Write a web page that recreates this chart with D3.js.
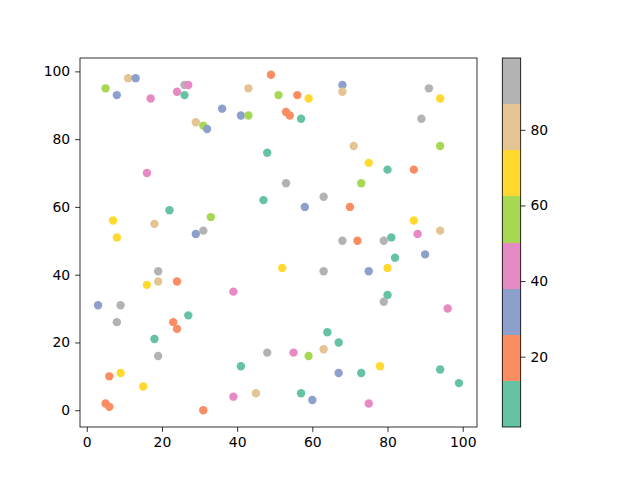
<!DOCTYPE html>
<html><head><meta charset="utf-8">
<script src="https://cdn.jsdelivr.net/npm/d3@7"></script>
<style>body{margin:0;background:#fff}svg{display:block}text{font-family:"DejaVu Sans",sans-serif;font-size:13.9px;fill:#000}</style>
</head><body>
<script>
const xs = [5,8,11,13,17,16,24,26,27,26,29,31,32,36,41,43,43,49,51,48,56,59,53,54,57,68,68,91,94,89,94,71,75,80,87,53,73,47,7,8,18,22,33,29,31,19,19,16,24,39,52,3,9,63,58,70,87,94,88,81,79,72,68,90,82,63,75,80,80,79,96,8,23,24,27,18,19,48,41,6,9,15,5,6,31,39,45,64,67,55,59,63,67,73,78,94,99,57,60,75];
const ys = [95,93,98,98,92,70,94,96,96,93,85,84,83,89,87,87,95,99,93,76,93,92,88,87,86,96,94,95,92,86,78,78,73,71,71,67,67,62,56,51,55,59,57,52,53,41,38,37,38,35,42,31,31,63,60,60,56,53,52,51,50,50,50,46,45,41,41,42,34,32,30,26,26,24,28,21,16,17,13,10,11,7,2,1,0,4,5,23,20,17,16,18,11,11,13,12,8,5,3,2];
const cs = [56,32,81,32,44,44,44,93,44,7,81,56,32,32,32,56,81,20,56,7,20,68,20,20,7,32,81,93,68,93,56,81,68,7,20,93,56,7,68,68,81,7,56,32,93,93,81,68,20,44,68,32,93,93,32,20,68,81,44,7,93,20,93,32,7,93,32,68,7,93,44,93,20,20,7,7,93,93,7,20,68,68,20,20,20,44,81,7,7,44,56,81,32,7,68,7,7,7,32,44];
const colorLimits = [1.4, 99];
const palette = ["#66c2a5","#fc8d62","#8da0cb","#e78ac3","#a6d854","#ffd92f","#e5c494","#b3b3b3"];
const xTicks = [0,20,40,60,80,100];
const yTicks = [0,20,40,60,80,100];
const cTicks = [20,40,60,80];

const W=640,H=480;
const svg=d3.select("body").append("svg").attr("width",W).attr("height",H);
const L=80,R=477,T=58,B=427;
const xMin=d3.min(xs),xMax=d3.max(xs),yMin=d3.min(ys),yMax=d3.max(ys);
const xPad=(xMax-xMin)*0.05,yPad=(yMax-yMin)*0.05;
const x=d3.scaleLinear().domain([xMin-xPad,xMax+xPad]).range([L,R]);
const y=d3.scaleLinear().domain([yMin-yPad,yMax+yPad]).range([B,T]);
const color=d3.scaleQuantize().domain(colorLimits).range(palette);

const g=svg.append("g");
g.selectAll("circle").data(xs.map((d,i)=>({x:d,y:ys[i],c:cs[i]}))).enter().append("circle")
 .attr("cx",d=>x(d.x)).attr("cy",d=>y(d.y)).attr("r",4.2).attr("fill",d=>color(d.c));

const xa=svg.append("g").attr("transform",`translate(0,${B})`).call(d3.axisBottom(x).tickValues(xTicks).tickFormat(d3.format("d")).tickSize(4.9).tickPadding(4.9));
const ya=svg.append("g").attr("transform",`translate(${L},0)`).call(d3.axisLeft(y).tickValues(yTicks).tickFormat(d3.format("d")).tickSize(4.9).tickPadding(4.9));
[xa,ya].forEach(a=>{a.select(".domain").remove();a.selectAll("line").attr("stroke","#000").attr("stroke-width",0.8);a.selectAll("text").style("font-size","13.9px").style("font-family","DejaVu Sans");});
svg.append("rect").attr("x",L).attr("y",T).attr("width",R-L).attr("height",B-T).attr("fill","none").attr("stroke","#000").attr("stroke-width",0.8);

// colorbar
const cL=502.3,cR=520.7;
const cy=d3.scaleLinear().domain(colorLimits).range([B,T]);
const step=(colorLimits[1]-colorLimits[0])/palette.length;
svg.append("g").selectAll("rect").data(palette).enter().append("rect")
 .attr("x",cL).attr("width",cR-cL)
 .attr("y",(d,i)=>cy(colorLimits[0]+(i+1)*step)).attr("height",(d,i)=>cy(colorLimits[0]+i*step)-cy(colorLimits[0]+(i+1)*step))
 .attr("fill",d=>d).attr("shape-rendering","crispEdges");
const ca=svg.append("g").attr("transform",`translate(${cR},0)`).call(d3.axisRight(cy).tickValues(cTicks).tickFormat(d3.format("d")).tickSize(4.9).tickPadding(4.9));
ca.select(".domain").remove();ca.selectAll("line").attr("stroke","#000").attr("stroke-width",0.8);ca.selectAll("text").style("font-size","13.9px").style("font-family","DejaVu Sans");
svg.append("rect").attr("x",cL).attr("y",T).attr("width",cR-cL).attr("height",B-T).attr("fill","none").attr("stroke","#000").attr("stroke-width",0.8);
</script>
</body></html>
